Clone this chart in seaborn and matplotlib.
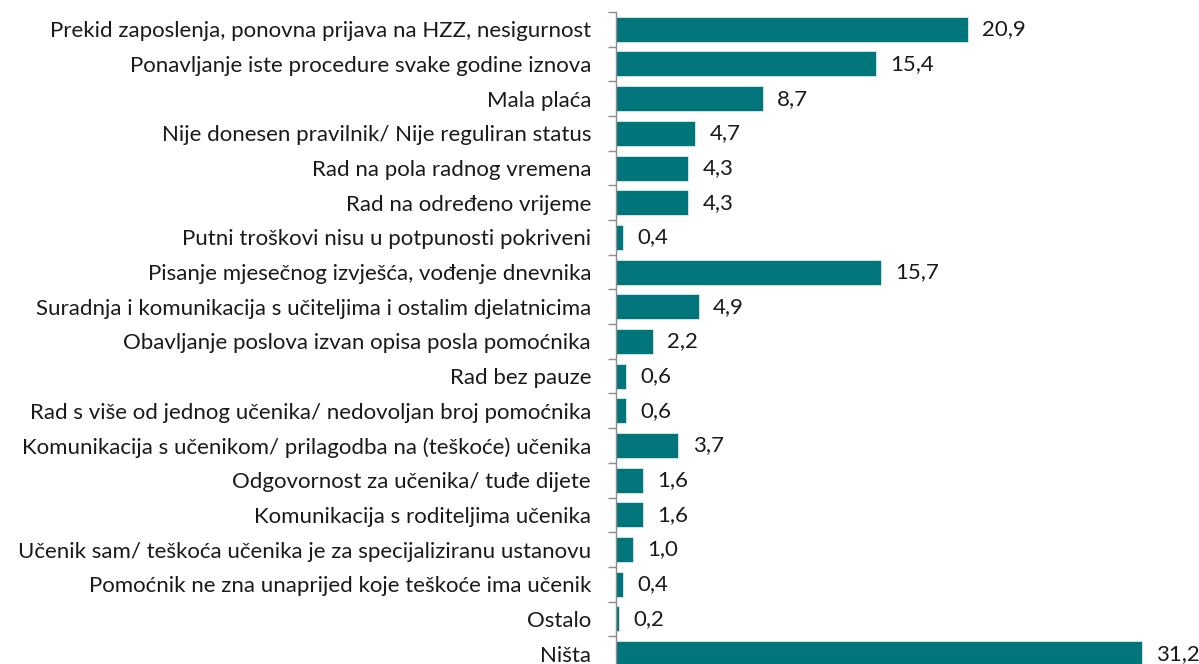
import numpy as np
import pandas as pd
import matplotlib
matplotlib.use("Agg")
import matplotlib.pyplot as plt
import seaborn as sns

categories = [
    "Prekid zaposlenja, ponovna prijava na HZZ, nesigurnost",
    "Ponavljanje iste procedure svake godine iznova",
    "Mala plaća",
    "Nije donesen pravilnik/ Nije reguliran status",
    "Rad na pola radnog vremena",
    "Rad na određeno vrijeme",
    "Putni troškovi nisu u potpunosti pokriveni",
    "Pisanje mjesečnog izvješća, vođenje dnevnika",
    "Suradnja i komunikacija s učiteljima i ostalim djelatnicima",
    "Obavljanje poslova izvan opisa posla pomoćnika",
    "Rad bez pauze",
    "Rad s više od jednog učenika/ nedovoljan broj pomoćnika",
    "Komunikacija s učenikom/ prilagodba na (teškoće) učenika",
    "Odgovornost za učenika/ tuđe dijete",
    "Komunikacija s roditeljima učenika",
    "Učenik sam/ teškoća učenika je za specijaliziranu ustanovu",
    "Pomoćnik ne zna unaprijed koje teškoće ima učenik",
    "Ostalo",
    "Ništa",
]
values = [20.9, 15.4, 8.7, 4.7, 4.3, 4.3, 0.4, 15.7, 4.9, 2.2,
          0.6, 0.6, 3.7, 1.6, 1.6, 1.0, 0.4, 0.2, 31.2]

df = pd.DataFrame({"kategorija": categories, "postotak": values})

sns.set_theme(style="white")
plt.rcParams["font.family"] = ["Lato", "DejaVu Sans"]

fig = plt.figure(figsize=(11.99, 6.64), dpi=100)
ax = fig.add_axes([0.5138, -0.0105, 0.4862, 0.9925])

sns.barplot(data=df, x="postotak", y="kategorija", color="#00767C",
            saturation=1, width=0.72, edgecolor="#d8ecec", linewidth=0.6, ax=ax)

n = len(categories)
ax.set_xlim(0, 34.6)
ax.set_ylim(n - 0.5, -0.5)
ax.set_xlabel("")
ax.set_ylabel("")
ax.set_xticks([])

# labels at bar centres, boundary ticks between categories
ax.set_yticks(range(n))
ax.set_yticklabels(categories, fontsize=16, color="#1a1a1a")
ax.tick_params(axis="y", which="major", length=0, pad=18)
ax.set_yticks(np.arange(-0.5, n, 1.0), minor=True)
ax.tick_params(axis="y", which="minor", left=True, length=6, width=1, color="#8c8c8c")

for s in ["top", "right", "bottom"]:
    ax.spines[s].set_visible(False)
ax.spines["left"].set_color("#8c8c8c")
ax.spines["left"].set_linewidth(1)

for i, v in enumerate(values):
    ax.text(v + 0.85, i, f"{v:.1f}".replace(".", ","), va="center", ha="left",
            fontsize=16, color="#1a1a1a")

fig.savefig("out.png", dpi=100)
